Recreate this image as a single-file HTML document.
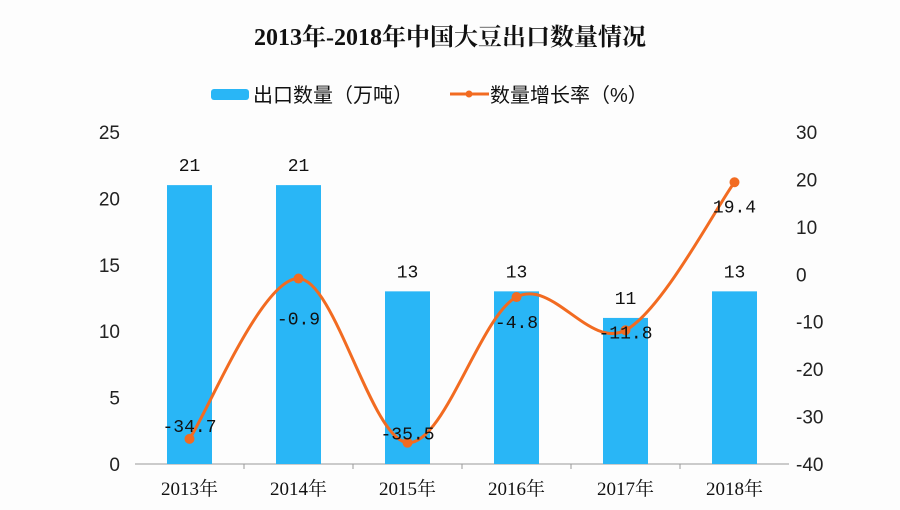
<!DOCTYPE html>
<html><head><meta charset="utf-8"><style>
body{margin:0;background:#fff;}
svg{display:block;font-family:"Liberation Mono","Noto Sans CJK SC",monospace;}
</style></head><body>
<svg id="c" width="900" height="510">
<rect width="900" height="510" fill="#fdfdfd"/>
<text x="450" y="45" text-anchor="middle" font-size="24" font-weight="bold" font-family="Liberation Serif, Noto Serif CJK SC, serif" fill="#111">2013年-2018年中国大豆出口数量情况</text>
<g><rect x="211" y="89" width="38" height="11" rx="3" fill="#29b6f6"/><text x="253" y="102" font-size="20" font-family="Liberation Sans, Noto Sans CJK SC, sans-serif" fill="#111">出口数量（万吨）</text></g>
<g><line x1="450" y1="94" x2="489" y2="94" stroke="#f26b21" stroke-width="3"/><circle cx="469" cy="94" r="3.5" fill="#f26b21"/><text x="490" y="102" font-size="20" font-family="Liberation Sans, Noto Sans CJK SC, sans-serif" fill="#111">数量增长率（%）</text></g>
<g id="g"></g>
</svg>
<script>
const categories=["2013年","2014年","2015年","2016年","2017年","2018年"];
const exportValues=[21,21,13,13,11,13];
const growthValues=[-34.7,-0.9,-35.5,-4.8,-11.8,19.4];
const leftTicks=[0,5,10,15,20,25];
const rightTicks=[-40,-30,-20,-10,0,10,20,30];
const NS="http://www.w3.org/2000/svg";
const g=document.getElementById('g');
const X0=135,CW=109,Y0=464,Y1=132;
const yL=v=>Y0-(v/25)*(Y0-Y1);
const yR=v=>Y0-((v+40)/70)*(Y0-Y1);
const xc=i=>X0+CW*(i+0.5);
const labelDy=[-7,46,-3,31,8,30];
function el(t,a,txt){const e=document.createElementNS(NS,t);for(const k in a)e.setAttribute(k,a[k]);if(txt!==undefined)e.textContent=txt;g.appendChild(e);return e;}
let ax=el('line',{x1:X0,y1:Y0,x2:X0+CW*6,y2:Y0,stroke:'#999'});


for(let i=1;i<6;i++){let t=el('line',{x1:X0+CW*i,y1:Y0,x2:X0+CW*i,y2:Y0+5,stroke:'#999'});

}
leftTicks.forEach(v=>{let t=el('text',{x:120,y:yL(v)+7,'text-anchor':'end','font-size':19,'font-family':'Liberation Sans, sans-serif',fill:'#222'},v);

});
rightTicks.forEach(v=>{let t=el('text',{x:796,y:yR(v)+7,'font-size':19,'font-family':'Liberation Sans, sans-serif',fill:'#222'},v);

});
categories.forEach((c,i)=>{let t=el('text',{x:xc(i),y:495,'text-anchor':'middle','font-size':19,'font-family':'Liberation Serif, Noto Serif CJK SC, serif',fill:'#111'},c);

});
exportValues.forEach((v,i)=>{let b=el('rect',{x:xc(i)-22.5,y:yL(v),width:45,height:Y0-yL(v),fill:'#29b6f6'});


let t=el('text',{x:xc(i),y:yL(v)-14,'text-anchor':'middle','font-size':18,fill:'#111'},v);

});
const P=growthValues.map((v,i)=>[xc(i),yR(v)]);
let d='M'+P[0][0]+','+P[0][1];
for(let i=0;i<P.length-1;i++){const p0=P[i-1]||P[i],p1=P[i],p2=P[i+1],p3=P[i+2]||p2;const k=6;
d+=` C${p1[0]+(p2[0]-p0[0])/k},${p1[1]+(p2[1]-p0[1])/k} ${p2[0]-(p3[0]-p1[0])/k},${p2[1]-(p3[1]-p1[1])/k} ${p2[0]},${p2[1]}`;}
let ln=el('path',{d:d,fill:'none',stroke:'#f26b21','stroke-width':3});


P.forEach((p,i)=>{let c=el('circle',{cx:p[0],cy:p[1],r:5,fill:'#f26b21'});


let t=el('text',{x:p[0],y:p[1]+labelDy[i],'text-anchor':'middle','font-size':18,fill:'#111'},growthValues[i]);

});
</script>
</body></html>
